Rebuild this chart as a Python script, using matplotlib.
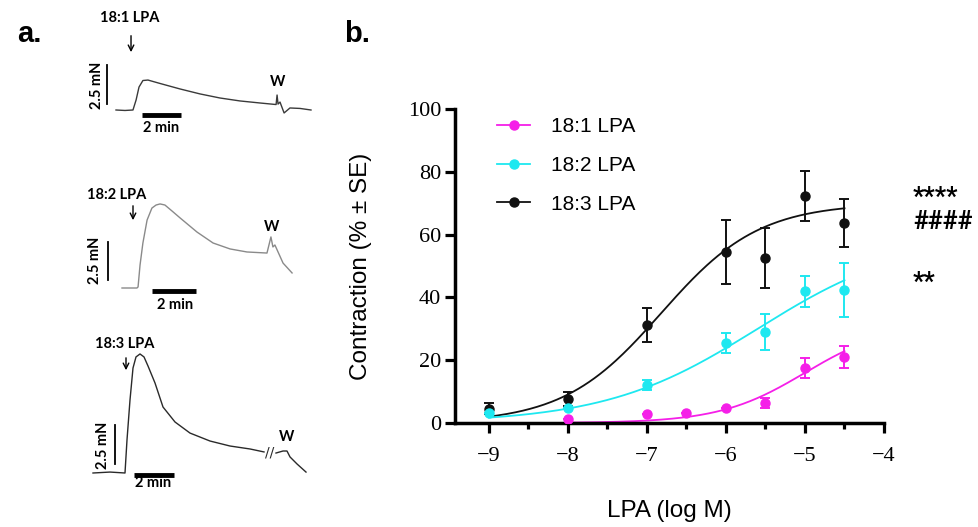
import numpy as np
import matplotlib.pyplot as plt
from matplotlib.lines import Line2D

# ---- panel b: dose-response data ----
lpa181_x = [-8, -7, -6.5, -6, -5.5, -5, -4.5]
lpa181_y = [1.3, 2.9, 3.2, 4.8, 6.4, 17.5, 21.0]
lpa181_err = [0.0, 0.0, 0.0, 0.0, 1.5, 3.3, 3.5]

lpa182_x = [-9, -8, -7, -6, -5.5, -5, -4.5]
lpa182_y = [3.3, 4.8, 12.1, 25.5, 29.0, 42.0, 42.4]
lpa182_err = [0.0, 0.0, 1.5, 3.2, 5.6, 4.9, 8.6]

lpa183_x = [-9, -8, -7, -6, -5.5, -5, -4.5]
lpa183_y = [4.6, 7.6, 31.2, 54.5, 52.5, 72.3, 63.7]
lpa183_err = [1.8, 2.3, 5.5, 10.3, 9.5, 8.0, 7.5]

# fitted curve parameters (top, logEC50, hill slope, start of fit)
fit181 = (32.0, -5.0, 0.8, -8.0)
fit182 = (60.0, -5.6, 0.45, -9.0)
fit183 = (70.0, -6.82, 0.7, -9.0)

# ---- panel a: force traces (time in min, force in mN) ----
t181 = [0, 0.46, 0.87, 1.03, 1.18, 1.38, 1.64, 2.26, 3.28, 4.31, 5.33, 6.36, 7.38,
        8.21, 8.26, 8.31, 8.41, 8.62, 8.92, 9.44, 10.0]
f181 = [0, -0.03, 0, 0.64, 1.47, 1.89, 1.92, 1.70, 1.35, 1.03, 0.77, 0.58, 0.45,
        0.35, 0.96, 0.38, 0.51, -0.19, 0.13, 0.10, 0.0]

t182 = [0, 0.68, 0.73, 0.82, 0.95, 1.14, 1.36, 1.55, 1.73, 1.95, 2.27, 2.64, 3.41,
        4.14, 4.91, 5.68, 6.59, 6.77, 6.86, 6.95, 7.32, 7.73]
f182 = [0, 0, 0.07, 1.51, 2.96, 4.47, 5.26, 5.46, 5.53, 5.46, 5.07, 4.61, 3.68,
        2.96, 2.57, 2.37, 2.30, 3.36, 2.70, 2.83, 1.64, 0.99]

t183a = [0, 0.85, 1.6, 1.7, 1.85, 2.0, 2.15, 2.35, 2.55, 2.75, 3.1, 3.5, 4.1, 4.85,
         5.85, 6.85, 7.85, 8.55]
f183a = [0, 0.06, 0, 2.12, 4.68, 6.73, 7.44, 7.63, 7.44, 6.86, 5.77, 4.23, 3.27,
         2.56, 2.05, 1.73, 1.54, 1.35]
t183b = [9.15, 9.5, 9.7, 9.85, 10.2, 10.65]
f183b = [1.28, 1.41, 1.41, 1.03, 0.58, 0.06]

MAG = '#f51fe8'
CYA = '#1ee8f0'
BLK = '#111111'

W, H = 979, 527
fig = plt.figure(figsize=(9.79, 5.27), dpi=100)

lab = dict(family='Lato', fontweight='bold', fontsize=10.5)


def trace_axes(x0, y0, px_min, px_mN):
    ax = fig.add_axes([0, 0, 330 / W, 1])
    ax.set_xlim(-x0 / px_min, (330 - x0) / px_min)
    ax.set_ylim((y0 - H) / px_mN, y0 / px_mN)
    ax.axis('off')
    return ax


def decorate(ax, name, lab_xy, arr_x, arr_y, w_xy, vbar, vlab_xy, hbar, hlab_xy):
    ax.text(*lab_xy, name, ha='center', va='center', **lab)
    ax.annotate('', xy=(arr_x, arr_y[1]), xytext=(arr_x, arr_y[0]),
                arrowprops=dict(arrowstyle='->', lw=1.0, color='black'))
    ax.text(*w_xy, 'W', ha='center', va='center', **lab)
    ax.plot([vbar[0], vbar[0]], [vbar[1], vbar[1] + 2.5], color='black', lw=1.3)
    ax.text(*vlab_xy, '2.5 mN', rotation=90, ha='center', va='center', **lab)
    ax.plot([hbar[0], hbar[0] + 2], [hbar[1], hbar[1]], color='black', lw=3.5,
            solid_capstyle='butt')
    ax.text(*hlab_xy, '2 min', ha='center', va='center', **lab)


ax1 = trace_axes(116, 110, 19.5, 15.6)
ax1.plot(t181, f181, color='#3a3a3a', lw=1.0)
decorate(ax1, '18:1 LPA', (0.72, 5.9), 0.77, (4.94, 3.53), (8.31, 1.79),
         (-0.46, 0.38), (-0.97, 1.6), (1.33, -0.32), (2.31, -1.15))

ax2 = trace_axes(122, 288, 22, 15.2)
ax2.plot(t182, f182, color='#8a8a8a', lw=1.0)
decorate(ax2, '18:2 LPA', (-0.23, 6.12), 0.5, (5.59, 4.28), (6.82, 4.01),
         (-0.64, 0.53), (-1.23, 1.84), (1.36, -0.2), (2.41, -1.12))

ax3 = trace_axes(93, 473, 20, 15.6)
ax3.plot(t183a, f183a, color='#2a2a2a', lw=1.0)
ax3.plot(t183b, f183b, color='#2a2a2a', lw=1.0)
ax3.text(8.85, 1.3, '//', ha='center', va='center', fontsize=10, color='#2a2a2a')
decorate(ax3, '18:3 LPA', (1.6, 8.27), 1.65, (7.56, 6.41), (9.7, 2.31),
         (1.1, 0.58), (0.5, 1.79), (2.05, -0.15), (3.0, -0.64))

fig.text(17 / W, 1 - 42 / H, 'a.', family='Liberation Sans', fontweight='bold',
         fontsize=21, ha='left', va='baseline')
fig.text(344 / W, 1 - 42 / H, 'b.', family='Liberation Sans', fontweight='bold',
         fontsize=21, ha='left', va='baseline')

# ---- panel b ----
ax = fig.add_axes([455 / W, 1 - 423 / H, 429 / W, 314 / H])


def hill(x, top, ec50, slope):
    return top / (1 + 10 ** (slope * (ec50 - x)))


series = [
    (lpa183_x, lpa183_y, lpa183_err, fit183, BLK, '18:3 LPA'),
    (lpa182_x, lpa182_y, lpa182_err, fit182, CYA, '18:2 LPA'),
    (lpa181_x, lpa181_y, lpa181_err, fit181, MAG, '18:1 LPA'),
]
for xs, ys, es, fit, col, name in series:
    xx = np.linspace(fit[3], -4.5, 200)
    ax.plot(xx, hill(xx, *fit[:3]), color=col, lw=1.3, zorder=2)
    ax.errorbar(xs, ys, yerr=es, fmt='o', color=col, ms=6.5, capsize=3.6,
                elinewidth=1.4, capthick=1.4, zorder=3)

handles = [Line2D([], [], color=c, marker='o', ms=6.5, lw=1.3)
           for c in (MAG, CYA, BLK)]
ax.legend(handles, ['18:1 LPA', '18:2 LPA', '18:3 LPA'], loc='upper left',
          bbox_to_anchor=(497 / W, 1 - 117 / H), bbox_transform=fig.transFigure,
          frameon=False, borderpad=0, borderaxespad=0, handlelength=1.6,
          handletextpad=1.0, labelspacing=0.95,
          prop=dict(family='Liberation Sans', size=15))

ax.set_xlim(-9.43, -4)
ax.set_ylim(0, 100)
ax.set_xticks([-9, -8, -7, -6, -5, -4])
ax.set_xticks([-8.5, -7.5, -6.5, -5.5, -4.5], minor=True)
ax.set_yticks([0, 20, 40, 60, 80, 100])
for s in ('top', 'right'):
    ax.spines[s].set_visible(False)
for s in ('left', 'bottom'):
    ax.spines[s].set_linewidth(2.5)
ax.tick_params(which='major', length=7, width=2.3, pad=3)
ax.tick_params(axis='x', which='major', pad=10)
ax.tick_params(which='minor', length=4.5, width=2.3)
for lbl in ax.get_xticklabels() + ax.get_yticklabels():
    lbl.set_family('Liberation Serif')
    lbl.set_fontsize(16)

ax.set_ylabel('Contraction (% ± SE)', family='Liberation Sans', fontsize=17.5)
ax.yaxis.set_label_coords(-0.193, 0.5)
ax.set_xlabel('LPA (log M)', family='Liberation Sans', fontsize=17.5, va='top')
ax.xaxis.set_label_coords(0.5, -0.245)

# significance marks: one two-line text so the rows can sit close together
sig = dict(family='Roboto', fontsize=18, fontweight='bold',
           ha='left', va='baseline', clip_on=False)
ax.text(-3.633, 61.8, '****\n####', linespacing=1.03, **sig)
ax.text(-3.633, 42.5, '**', **sig)

fig.savefig('out.png', dpi=100)
